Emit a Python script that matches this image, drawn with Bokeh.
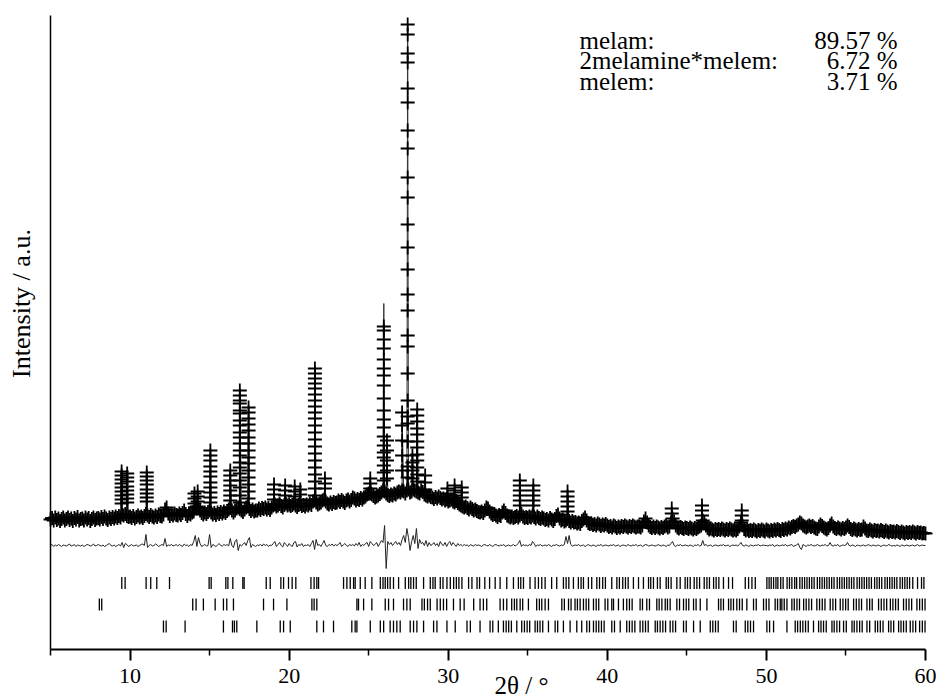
import numpy as np
from bokeh.plotting import figure
from bokeh.models import Range1d, FixedTicker, Label
from bokeh.embed import file_html
from bokeh.resources import INLINE

# ---------------- data ----------------
TTH_START = 5.0
TTH_STEP = 0.1

# observed intensity on the 0.1 deg grid (5.0 ... 60.0), one row per degree
obs_bg = [
    1020, 1050, 1000, 1060, 1010, 1040, 990, 1030, 1060, 1000,
    1030, 1060, 1010, 1040, 990, 1050, 1020, 1070, 1000, 1030,
    1040, 1000, 1060, 1020, 1050, 990, 1030, 1060, 1010, 1040,
    1050, 1020, 1070, 1030, 1080, 1040, 1010, 1060, 1030, 1070,
    1040, 1080, 1050, 1090, 1060, 1120, 1100, 1130, 1090, 1070,
    1080, 1050, 1090, 1040, 1070, 1100, 1060, 1080, 1050, 1090,
    1130, 1100, 1070, 1110, 1080, 1060, 1100, 1070, 1120, 1090,
    1080, 1120, 1220, 1260, 1140, 1090, 1130, 1100, 1140, 1110,
    1100, 1140, 1110, 1150, 1200, 1130, 1090, 1140, 1120, 1160,
    1180, 1260, 1280, 1250, 1200, 1150, 1120, 1160, 1130, 1170,
    1200, 1160, 1120, 1150, 1110, 1160, 1130, 1170, 1140, 1180,
    1150, 1190, 1220, 1250, 1200, 1160, 1200, 1240, 1260, 1230,
    1200, 1170, 1220, 1260, 1280, 1230, 1190, 1220, 1180, 1200,
    1200, 1240, 1210, 1250, 1230, 1260, 1220, 1250, 1210, 1260,
    1300, 1320, 1280, 1300, 1330, 1290, 1260, 1310, 1340, 1300,
    1320, 1290, 1310, 1340, 1300, 1270, 1310, 1330, 1290, 1310,
    1280, 1320, 1300, 1340, 1310, 1380, 1400, 1360, 1320, 1340,
    1360, 1400, 1420, 1380, 1340, 1320, 1360, 1330, 1370, 1350,
    1360, 1400, 1370, 1410, 1380, 1350, 1400, 1420, 1380, 1410,
    1460, 1440, 1400, 1430, 1410, 1450, 1420, 1460, 1480, 1520,
    1540, 1560, 1520, 1490, 1460, 1480, 1500, 1530, 1560, 1600,
    1580, 1540, 1510, 1490, 1520, 1500, 1540, 1520, 1560, 1580,
    1560, 1600, 1580, 1540, 1600, 1620, 1560, 1580, 1620, 1600,
    1580, 1560, 1540, 1600, 1570, 1520, 1500, 1480, 1500, 1470,
    1460, 1430, 1470, 1440, 1480, 1450, 1420, 1440, 1400, 1420,
    1380, 1400, 1420, 1380, 1360, 1390, 1350, 1320, 1300, 1280,
    1260, 1280, 1250, 1220, 1260, 1230, 1200, 1220, 1190, 1170,
    1160, 1180, 1150, 1200, 1260, 1240, 1180, 1140, 1110, 1130,
    1100, 1070, 1110, 1090, 1160, 1200, 1150, 1100, 1080, 1060,
    1080, 1050, 1070, 1090, 1060, 1100, 1130, 1080, 1050, 1070,
    1050, 1080, 1060, 1100, 1070, 1040, 1080, 1050, 1030, 1060,
    1040, 1010, 1030, 1000, 1050, 1020, 990, 1030, 1090, 1120,
    1040, 1000, 1020, 980, 1000, 1030, 990, 960, 990, 960,
    970, 940, 960, 930, 990, 1020, 1060, 1000, 950, 930,
    940, 910, 930, 900, 940, 920, 890, 920, 900, 930,
    900, 870, 890, 860, 900, 880, 850, 880, 860, 890,
    870, 900, 880, 860, 890, 870, 900, 880, 860, 880,
    880, 860, 900, 980, 1040, 960, 900, 870, 850, 880,
    850, 880, 860, 840, 870, 850, 880, 900, 860, 880,
    960, 1040, 980, 900, 860, 840, 870, 850, 830, 860,
    850, 830, 860, 840, 820, 850, 830, 860, 880, 900,
    1000, 960, 900, 850, 820, 840, 820, 800, 830, 810,
    830, 810, 840, 820, 800, 830, 810, 840, 820, 800,
    820, 800, 830, 880, 960, 900, 830, 800, 820, 790,
    810, 790, 820, 800, 780, 810, 790, 820, 800, 780,
    820, 800, 780, 810, 790, 820, 800, 830, 810, 790,
    830, 810, 840, 820, 860, 840, 870, 890, 870, 900,
    920, 960, 940, 900, 880, 860, 880, 900, 870, 890,
    860, 840, 830, 880, 920, 890, 860, 840, 820, 850,
    900, 940, 880, 850, 830, 860, 840, 820, 850, 830,
    860, 900, 870, 830, 810, 840, 820, 800, 830, 810,
    820, 880, 840, 800, 790, 820, 800, 780, 810, 790,
    800, 780, 810, 790, 770, 800, 780, 760, 790, 770,
    780, 760, 790, 770, 750, 780, 760, 740, 770, 750,
    770, 750, 780, 760, 740, 770, 750, 760, 740, 750,
    740,
]

# difference (obs - calc) on the same grid
diff_vals = [
    0, 20, -20, 10, -10, 20, 0, -20, 10, 0,
    -10, 10, 30, -10, 0, 20, -20, 10, 0, -10,
    10, -20, 0, 20, 10, -10, 0, 30, -10, 0,
    20, 0, -10, 10, -20, 0, 20, 40, 0, -10,
    10, -20, 0, 20, -10, 60, -40, 40, 20, -20,
    0, 20, -10, 0, 10, -20, 0, 20, 30, 0,
    220, -40, 0, 20, -10, 0, 30, 10, -20, 0,
    20, 0, 140, -20, 10, 0, 20, -10, 0, 20,
    -10, 20, 0, -20, 30, 0, 10, -20, 20, 0,
    80, 200, -20, 160, 40, -20, 0, 20, -10, 0,
    220, -40, 20, 0, -20, 10, 40, 0, -10, 20,
    0, 20, -10, 140, 0, -40, 80, 120, -100, 20,
    -10, 20, 60, 0, 100, 160, -40, 20, 0, -20,
    10, 0, 20, -10, 30, 0, 20, -20, 10, 0,
    40, 80, -20, 20, 60, 0, -30, 60, 20, -20,
    40, 0, -20, 60, 80, -30, 20, 0, 40, -20,
    10, 0, 20, -20, 40, 100, -80, 120, 0, 20,
    -20, 40, 100, 0, -20, 20, 0, 30, -10, 20,
    0, 20, 60, -20, 10, 40, 0, -20, 20, 0,
    20, -10, 40, 0, 60, -20, 20, 0, 40, 60,
    -20, 80, 40, 0, 20, 60, -20, 40, 100, 60,
    400, -460, 80, 20, 60, 0, 40, 80, 20, 60,
    0, 120, 200, 60, 340, 160, -100, 80, 200, 40,
    340, -60, 120, 40, 60, 0, 100, -20, 60, 0,
    20, 60, 0, 40, -20, 80, 20, 0, 60, -20,
    40, 80, 0, 60, 20, -20, 40, 0, 20, -10,
    20, 0, 10, -20, 20, 0, -10, 20, 0, 10,
    0, -20, 10, 20, 0, -10, 20, 0, -20, 10,
    20, 0, -10, 10, 0, 20, -20, 0, 10, -10,
    0, 20, -10, 10, 40, 100, -20, 20, 0, 10,
    -10, 20, 0, 80, 40, -20, 10, 0, 20, -10,
    0, 10, -10, 20, 0, -20, 10, 0, 20, 0,
    -10, 10, 0, 20, 180, 40, 200, 20, -10, 0,
    10, 0, 20, -10, 0, 10, -20, 0, 20, 0,
    -10, 10, 0, -20, 10, 0, 20, -10, 0, 10,
    0, -10, 10, 0, 20, -10, 0, 10, -20, 0,
    10, 0, -10, 20, 0, -10, 10, 0, 20, -10,
    0, 10, -20, 0, 20, 10, -10, 0, 10, 0,
    -10, 0, 20, 0, -10, 10, 0, -20, 10, 0,
    40, 80, 0, -20, 10, 0, 20, -10, 0, 10,
    0, -10, 10, 0, -20, 10, 0, 20, -10, 0,
    100, 0, 20, -10, 0, 10, -20, 0, 10, 0,
    -10, 10, 0, 20, -10, 0, 10, -20, 0, 10,
    0, 10, -10, 20, 60, 0, -10, 10, 0, -20,
    10, 0, -10, 10, 0, 20, -10, 0, 10, 0,
    0, -10, 10, 0, 20, -20, 0, 10, -10, 0,
    10, 0, 20, -10, 0, 10, 20, -20, 0, 10,
    40, -40, -80, 20, 0, -20, 10, 0, 20, 0,
    -10, 0, 20, 0, -10, 10, 0, 20, -10, 0,
    60, 0, -10, 10, 0, 20, -20, 0, 10, 0,
    10, 60, 0, -10, 10, 0, -20, 10, 0, -10,
    0, 10, -10, 0, 20, 0, -10, 10, 0, -10,
    10, 0, -20, 0, 10, -10, 0, 20, 0, -10,
    0, -10, 10, 0, -20, 10, 0, -10, 10, 0,
    -10, 0, 10, -10, 0, 20, -10, 0, 10, 0,
    0,
]
DIFF_OFFSET = 500

# sharp reflections: position, calculated apex, observed points on the flanks
peak_pos = [9.47, 9.82, 11.05, 14.05, 14.25, 15.05, 16.30, 16.90, 17.45,
            19.05, 19.75, 20.35, 20.70, 21.62, 22.25, 25.10, 25.95, 26.15,
            27.10, 27.45, 27.75, 28.05, 28.55, 29.95, 30.40, 30.85, 34.50,
            35.35, 37.50, 44.05, 45.95, 48.45]
peak_calc_top = [1980, 1940, 1800, 1500, 1540, 2300, 1960, 3600, 3260,
                 1700, 1680, 1660, 1600, 4040, 1800, 1820, 5340, 2600,
                 3160, 10920, 2300, 3220, 1880, 1620, 1680, 1640, 1780,
                 1680, 1560, 1220, 1280, 1180]
peak_obs = [
    [1980, 1900, 1820, 1740, 1660, 1580, 1500, 1420, 1340],
    [1940, 1860, 1780, 1680, 1600, 1520, 1440, 1360],
    [1960, 1880, 1800, 1720, 1620, 1540, 1460, 1380],
    [1540, 1440, 1340],
    [1580, 1480, 1380],
    [2400, 2300, 2200, 2080, 1980, 1880, 1760, 1660, 1560, 1460, 1360],
    [2000, 1900, 1800, 1700, 1600, 1500, 1400],
    [3600, 3500, 3400, 3340, 3200, 3140, 3000, 2900, 2760, 2660, 2540, 2400,
     2300, 2160, 2060, 1940, 1800, 1660, 1500, 1360],
    [3260, 3160, 3040, 2920, 2800, 2660, 2540, 2400, 2260, 2140, 2000, 1860,
     1720, 1580, 1440],
    [1720, 1620, 1520, 1420],
    [1700, 1600, 1500, 1400],
    [1680, 1580, 1480],
    [1620, 1520, 1420],
    [4040, 3940, 3840, 3740, 3640, 3520, 3400, 3280, 3160, 3040, 2900, 2760,
     2620, 2480, 2340, 2200, 2060, 1920, 1780, 1640, 1500],
    [1840, 1740, 1640],
    [1840, 1740, 1640, 1540],
    [4880, 4800, 4620, 4440, 4220, 4040, 3900, 3700, 3440, 3200, 3020, 2860,
     2680, 2500, 2360, 2260, 2100, 1960, 1800],
    [2600, 2400, 2200, 2000, 1840],
    [3160, 2900, 2600, 2300, 2000],
    [10920, 10720, 10340, 10160, 9640, 9360, 8800, 8440, 7860, 7460, 6920,
     6460, 6020, 5520, 5200, 4700, 4480, 3940, 3400, 3080, 2940, 2580, 2080,
     1860],
    [2300, 2160, 2000, 1840],
    [3220, 3100, 2980, 2840, 2720, 2580, 2460, 2320, 2200, 2060, 1920, 1780],
    [1900, 1760, 1620],
    [1640, 1540, 1440],
    [1700, 1600, 1500, 1400],
    [1660, 1560, 1460],
    [1800, 1700, 1600, 1500, 1400, 1300],
    [1700, 1600, 1500, 1400, 1300],
    [1580, 1480, 1380, 1280, 1180],
    [1240, 1140],
    [1300, 1200, 1100],
    [1200, 1100, 1000],
]

# reflection positions of the three phases
ticks_melam = [
    9.48, 9.69, 11.01, 11.30, 11.68, 12.48, 14.97, 15.10, 16.02, 16.15, 16.46,
    17.09, 17.17, 18.56, 18.81, 19.48, 19.65, 19.96, 20.19, 20.42, 21.37,
    21.57, 21.74, 21.85, 23.42, 23.63, 23.84, 24.05, 24.15, 24.47, 24.78,
    25.20, 25.73, 25.90, 26.04, 26.19, 26.35, 26.56, 26.88, 27.30, 27.51,
    27.65, 27.82, 27.99, 28.45, 28.87, 29.04, 29.18, 29.50, 29.67, 29.92,
    30.13, 30.34, 30.51, 30.67, 30.86, 31.28, 31.49, 31.81, 31.97, 32.30,
    32.60, 32.95, 33.26, 33.68, 34.10, 34.41, 34.56, 34.73, 35.14, 35.46,
    35.67, 35.88, 36.09, 36.50, 36.82, 37.24, 37.41, 37.58, 37.87, 38.18,
    38.35, 38.50, 38.81, 39.02, 39.34, 39.51, 39.71, 39.88, 40.28, 40.60,
    40.76, 40.97, 41.14, 41.31, 41.64, 41.96, 42.27, 42.59, 42.73, 42.90,
    43.15, 43.32, 43.70, 43.84, 44.01, 44.37, 44.58, 44.89, 45.04, 45.21,
    45.46, 45.63, 45.80, 46.09, 46.26, 46.42, 46.68, 46.84, 47.01, 47.30,
    47.62, 47.87, 48.67, 48.88, 49.09, 49.30, 50.03, 50.17, 50.30, 50.45,
    50.60, 50.72, 50.90, 51.05, 51.30, 51.45, 51.60, 51.78, 51.90, 52.10,
    52.25, 52.40, 52.55, 52.70, 52.85, 53.00, 53.20, 53.35, 53.50, 53.65,
    53.80, 53.95, 54.10, 54.25, 54.45, 54.60, 54.75, 54.90, 55.05, 55.20,
    55.35, 55.50, 55.70, 55.85, 56.00, 56.15, 56.30, 56.45, 56.60, 56.80,
    56.95, 57.10, 57.25, 57.45, 57.60, 57.75, 57.90, 58.05, 58.20, 58.40,
    58.55, 58.70, 58.85, 59.00, 59.20, 59.50, 59.75, 59.90,
]
ticks_mix = [
    8.07, 8.22, 13.94, 14.15, 14.61, 15.35, 15.87, 16.08, 16.50, 18.39, 19.02,
    19.86, 21.43, 21.57, 21.74, 24.26, 24.36, 24.68, 25.20, 26.04, 26.25,
    26.56, 27.19, 27.40, 27.61, 28.35, 28.50, 28.70, 28.87, 29.30, 29.50,
    29.70, 29.90, 30.33, 30.75, 31.00, 31.60, 32.00, 32.21, 32.42, 33.26,
    33.47, 33.68, 33.99, 34.16, 34.31, 34.52, 34.68, 35.04, 35.56, 35.73,
    35.88, 36.09, 36.30, 37.14, 37.30, 37.56, 37.72, 37.97, 38.12, 38.29,
    38.50, 38.67, 38.83, 39.13, 39.30, 39.46, 39.86, 40.03, 40.28, 40.39,
    40.70, 41.01, 41.22, 41.39, 41.56, 42.06, 42.21, 42.48, 42.65, 43.11,
    43.26, 43.43, 43.64, 43.78, 43.95, 44.37, 44.54, 44.79, 44.96, 45.12,
    45.42, 45.58, 45.84, 46.26, 46.99, 47.14, 47.30, 47.62, 47.77, 47.93,
    48.14, 48.31, 48.48, 48.77, 49.19, 49.36, 49.82, 49.99, 50.16, 50.55,
    50.70, 50.87, 50.97, 51.12, 51.29, 51.60, 51.75, 51.92, 52.08, 52.34,
    52.50, 52.67, 52.84, 53.17, 53.34, 53.51, 53.68, 54.01, 54.18, 54.35,
    54.64, 54.81, 54.98, 55.14, 55.48, 55.65, 55.82, 55.98, 56.32, 56.49,
    56.65, 57.05, 57.22, 57.39, 57.56, 57.79, 57.95, 58.12, 58.29, 58.62,
    58.79, 58.96, 59.13, 59.46, 59.63, 59.80, 59.97,
]
ticks_melem = [
    12.10, 12.27, 13.46, 15.87, 16.44, 16.56, 16.71, 17.97, 19.44, 19.65,
    20.07, 21.74, 22.16, 22.79, 23.94, 24.15, 24.26, 25.10, 25.73, 25.94,
    26.35, 26.56, 26.77, 26.98, 27.61, 27.82, 28.03, 28.45, 29.08, 29.29,
    29.92, 30.44, 31.18, 31.39, 32.00, 32.63, 32.80, 33.15, 33.47, 33.64,
    33.80, 33.97, 34.31, 34.62, 34.79, 34.96, 35.12, 35.46, 35.61, 35.77,
    35.94, 36.30, 36.72, 36.88, 37.24, 37.66, 38.08, 38.39, 38.71, 38.88,
    39.13, 39.30, 39.46, 39.63, 39.80, 40.28, 40.45, 40.81, 41.22, 41.39,
    41.56, 41.73, 42.06, 42.23, 42.40, 42.57, 43.01, 43.15, 43.32, 43.49,
    43.66, 43.95, 44.12, 44.29, 44.79, 44.96, 45.42, 45.84, 46.47, 46.63,
    46.80, 46.97, 47.93, 48.10, 48.67, 48.83, 49.00, 49.19, 50.03, 50.20,
    50.45, 51.29, 51.81, 51.96, 52.13, 52.29, 52.46, 52.63, 52.96, 53.28,
    53.43, 53.59, 53.76, 54.12, 54.26, 54.43, 54.60, 54.85, 55.02, 55.38,
    55.52, 55.69, 55.86, 56.02, 56.32, 56.49, 56.84, 56.99, 57.16, 57.33,
    57.68, 57.83, 58.00, 58.31, 58.46, 58.62, 58.79, 59.04, 59.21, 59.38,
    59.63, 59.80, 59.97,
]
tick_rows = [ticks_melam, ticks_mix, ticks_melem]

phase_names = ["melam:", "2melamine*melem:", "melem:"]
phase_fracs = ["89.57 %", "6.72 %", "3.71 %"]

x_major = [10, 20, 30, 40, 50, 60]
x_minor = [5, 15, 25, 35, 45, 55]

# ---------------- build sources ----------------
n = min(len(obs_bg), len(diff_vals))
tth = TTH_START + TTH_STEP * np.arange(n)
bg = np.array(obs_bg[:n], dtype=float)
dif = np.array(diff_vals[:n], dtype=float)

obs_x = list(tth)
obs_y = list(bg)
for pos, pts in zip(peak_pos, peak_obs):
    obs_x += [pos] * len(pts)
    obs_y += pts

calc_x = np.concatenate([tth, np.array(peak_pos)])
calc_y = np.concatenate([bg, np.array(peak_calc_top, dtype=float)])
order = np.argsort(calc_x, kind="stable")
calc_x, calc_y = calc_x[order], calc_y[order]

ROW_CENTER = [-250, -680, -1120]
ROW_HALF = 118
seg_x, seg_y0, seg_y1 = [], [], []
for row, yc in zip(tick_rows, ROW_CENTER):
    seg_x += row
    seg_y0 += [yc - ROW_HALF] * len(row)
    seg_y1 += [yc + ROW_HALF] * len(row)

# ---------------- figure ----------------
X_LO, X_HI = 5, 60
Y_LO, Y_HI = -1580, 11100          # extent of the drawn axes
p = figure(width=938, height=700,
           x_range=Range1d(1.857, 60.817), y_range=Range1d(-2600, 11400),
           output_backend="svg", toolbar_location=None, min_border=0)
p.outline_line_color = None
p.grid.visible = False
p.background_fill_color = "white"
p.border_fill_color = "white"

FONT = "Liberation Serif"

xa = p.xaxis[0]
xa.fixed_location = Y_LO
xa.bounds = (X_LO, X_HI)
xa.ticker = FixedTicker(ticks=x_major, minor_ticks=x_minor)
xa.axis_line_width = 2
xa.axis_line_color = "black"
xa.major_tick_line_width = 2
xa.major_tick_line_color = "black"
xa.minor_tick_line_width = 1.5
xa.minor_tick_line_color = "black"
xa.major_tick_in = 0
xa.major_tick_out = 11
xa.minor_tick_in = 0
xa.minor_tick_out = 6
xa.major_label_standoff = 8
xa.major_label_text_font = FONT
xa.major_label_text_font_size = "22px"
xa.major_label_text_color = "black"

ya = p.yaxis[0]
ya.fixed_location = X_LO
ya.bounds = (Y_LO, Y_HI)
ya.ticker = FixedTicker(ticks=[])
ya.axis_line_width = 1.5
ya.axis_line_color = "black"
ya.major_tick_out = 0
ya.major_tick_in = 0
ya.minor_tick_out = 0
ya.minor_tick_in = 0
ya.major_label_text_font_size = "0px"

p.segment(x0=seg_x, y0=seg_y0, x1=seg_x, y1=seg_y1, line_color="black", line_width=1.3)
p.line(tth, DIFF_OFFSET + dif, line_color="#222222", line_width=1)
p.line(calc_x, calc_y, line_color="#333333", line_width=1)
p.scatter(obs_x, obs_y, marker="cross", size=14, line_color="black", line_width=1.8)

# y axis title
p.add_layout(Label(x=3.18, y=5340, text="Intensity / a.u.", angle=np.pi / 2,
                   text_align="center", text_baseline="middle",
                   text_font=FONT, text_font_size="26px", text_color="black"))
# x axis title
p.add_layout(Label(x=34.61, y=-2560, text="2\u03b8 / \u00b0",
                   text_align="center", text_baseline="bottom",
                   text_font=FONT, text_font_size="25px", text_color="black"))

# phase fractions
for name, frac, yb in zip(phase_names, phase_fracs, [10606, 10206, 9774]):
    p.add_layout(Label(x=38.25, y=yb, text=name, text_align="left",
                       text_baseline="alphabetic", text_font=FONT,
                       text_font_size="25px", text_color="black"))
    p.add_layout(Label(x=58.24, y=yb, text=frac, text_align="right",
                       text_baseline="alphabetic", text_font=FONT,
                       text_font_size="25px", text_color="black"))

open("out.html", "w").write(file_html(p, INLINE))
